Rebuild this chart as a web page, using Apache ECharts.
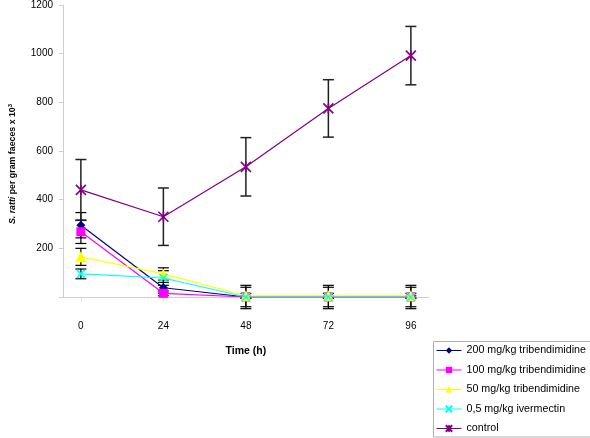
<!DOCTYPE html>
<html>
<head>
<meta charset="utf-8">
<script src="https://cdn.jsdelivr.net/npm/echarts@6/dist/echarts.min.js"></script>
<style>html,body{margin:0;padding:0;background:#fff}#c{width:590px;height:438px}</style>
</head>
<body>
<div id="c"></div>
<script>
// ---- data ----
const times = [0, 24, 48, 72, 96];
const seriesNames = ['200 mg/kg tribendimidine', '100 mg/kg tribendimidine', '50 mg/kg tribendimidine', '0,5 mg/kg ivermectin', 'control'];
const dose200 = [295, 38, 0, 0, 0];
const dose200Err = [52, 22, 48, 48, 48];
const dose100 = [268, 15, 0, 0, 0];
const dose100Err = [48, 10, 40, 40, 40];
const dose50 = [165, 95, 5, 5, 5];
const dose50Err = [35, 25, 10, 10, 10];
const ivermectin = [95, 78, 0, 0, 0];
const ivermectinErr = [20, 30, 5, 5, 5];
const control = [440, 330, 535, 775, 992];
const controlErr = [125, 118, 120, 118, 120];
const yTicks = [0, 200, 400, 600, 800, 1000, 1200];
const xTicks = [0, 24, 48, 72, 96];

const colors = ['#000080', '#FF00FF', '#FFFF00', '#00FFFF', '#800080'];
const symbols = ['diamond', 'rect', 'triangle', 'path://M0,0L10,10M10,0L0,10', 'path://M0,0L10,10M10,0L0,10M5,0L5,10'];
const symbolSizes = [9, 9, 11, 8, 10];
const values = [dose200, dose100, dose50, ivermectin, control];
const errors = [dose200Err, dose100Err, dose50Err, ivermectinErr, controlErr];

const FONT = '"Liberation Sans", Arial, sans-serif';

function errData(vals, errs) {
  return times.map((t, i) => [t, vals[i] - errs[i], vals[i] + errs[i]]);
}
function errRender(color, width) {
  return function (params, api) {
    const x = api.value(0);
    const lo = api.coord([x, api.value(1)]);
    const hi = api.coord([x, api.value(2)]);
    const hw = 5.5;
    const st = { stroke: color, lineWidth: width };
    return {
      type: 'group',
      children: [
        { type: 'line', shape: { x1: lo[0], y1: lo[1], x2: hi[0], y2: hi[1] }, style: st },
        { type: 'line', shape: { x1: hi[0] - hw, y1: hi[1], x2: hi[0] + hw, y2: hi[1] }, style: st },
        { type: 'line', shape: { x1: lo[0] - hw, y1: lo[1], x2: lo[0] + hw, y2: lo[1] }, style: st }
      ]
    };
  };
}

const series = [];
values.forEach((v, k) => {
  series.push({
    type: 'custom',
    name: 'err' + k,
    data: errData(v, errors[k]),
    renderItem: errRender(k === 4 ? '#202020' : '#000000', k === 4 ? 1.5 : 1.2),
    z: 1,
    silent: true,
    clip: false
  });
});
values.forEach((v, k) => {
  const isPath = k >= 3;
  series.push({
    type: 'line',
    name: seriesNames[k],
    data: times.map((t, i) => [t, v[i]]),
    symbol: symbols[k],
    symbolSize: symbolSizes[k],
    showAllSymbol: true,
    lineStyle: { color: colors[k], width: 1.2 },
    itemStyle: isPath
      ? { color: colors[k], borderColor: colors[k], borderWidth: 1.6 }
      : { color: colors[k], borderWidth: 0 },
    z: 3 + k,
    animation: false
  });
});

const chart = echarts.init(document.getElementById('c'), null, { renderer: 'canvas' });
chart.setOption({
  animation: false,
  backgroundColor: '#fff',
  grid: { left: 63, top: 5, right: 161.25, bottom: 141, containLabel: false },
  xAxis: {
    type: 'value',
    min: -5.2,
    max: 101.2,
    name: 'Time (h)',
    nameLocation: 'middle',
    nameGap: 49,
    nameTextStyle: { fontFamily: FONT, fontSize: 10.5, fontWeight: 'bold', color: '#000' },
    axisLine: { show: true, onZero: false, lineStyle: { color: '#cfcfcf', width: 1 } },
    axisTick: { show: true, length: 5, customValues: xTicks, lineStyle: { color: '#e4e4e4' } },
    axisLabel: { customValues: xTicks, margin: 24, fontFamily: FONT, fontSize: 10, color: '#000' },
    splitLine: { show: false }
  },
  yAxis: {
    type: 'value',
    min: 0,
    max: 1200,
    interval: 200,
    axisLine: { show: true, onZero: false, lineStyle: { color: '#cfcfcf', width: 1 } },
    axisTick: { show: true, length: 4, lineStyle: { color: '#cfcfcf' } },
    axisLabel: {
      margin: 10, fontFamily: FONT, fontSize: 10, color: '#000',
      formatter: v => (v === 0 ? '' : String(v))
    },
    splitLine: { show: false }
  },
  legend: {
    orient: 'vertical',
    left: 436,
    top: 345,
    padding: 0,
    itemWidth: 25,
    itemHeight: 8,
    itemGap: 8.5,
    data: seriesNames,
    lineStyle: { width: 1 },
    textStyle: { fontFamily: FONT, fontSize: 10.7, color: '#000' },
    selectedMode: false
  },
  graphic: [
    {
      type: 'rect',
      shape: { x: 433.5, y: 341.5, width: 200, height: 95.5 },
      style: { fill: 'none', stroke: '#b0b0b0', lineWidth: 1 },
      z: 0
    },
    {
      type: 'text',
      x: 13,
      y: 164,
      rotation: Math.PI / 2,
      style: {
        text: '{i|S. ratti}{n| per gram faeces x 10}{s|3}',
        align: 'center',
        verticalAlign: 'middle',
        rich: {
          i: { fontFamily: FONT, fontSize: 8.8, fontWeight: 'bold', fontStyle: 'italic', fill: '#000' },
          n: { fontFamily: FONT, fontSize: 8.8, fontWeight: 'bold', fill: '#000' },
          s: { fontFamily: FONT, fontSize: 6, fontWeight: 'bold', fill: '#000', verticalAlign: 'top', padding: [0, 0, 5, 0] }
        }
      }
    }
  ],
  series: series
});
</script>
</body>
</html>
